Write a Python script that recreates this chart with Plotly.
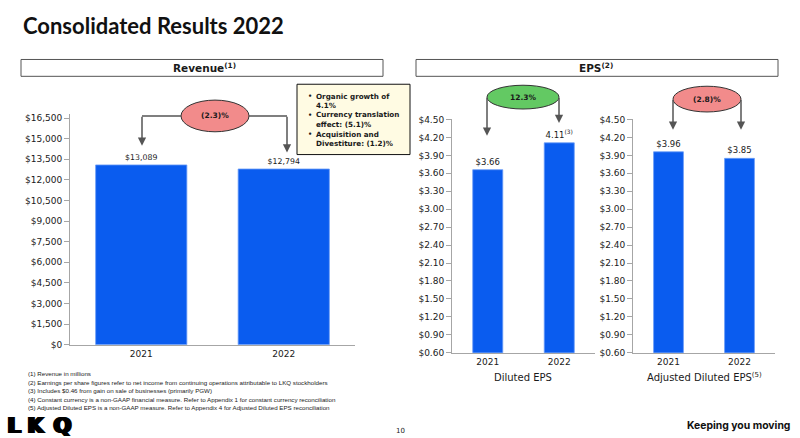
import plotly.graph_objects as go

# ---------------- data ----------------
years = ["2021", "2022"]
revenue = [13089, 12794]
eps_diluted = [3.66, 4.11]
eps_adjusted = [3.96, 3.85]

revenue_ticks = [0, 1500, 3000, 4500, 6000, 7500, 9000, 10500, 12000, 13500, 15000, 16500]
eps_ticks = [0.60, 0.90, 1.20, 1.50, 1.80, 2.10, 2.40, 2.70, 3.00, 3.30, 3.60, 3.90, 4.20, 4.50]

revenue_change = "(2.3)%"
diluted_change = "12.3%"
adjusted_change = "(2.8)%"

note_lines = [
    ["Organic growth of", "4.1%"],
    ["Currency translation", "effect: (5.1)%"],
    ["Acquisition and", "Divestiture: (1.2)%"],
]

footnotes = [
    "(1) Revenue in millions",
    "(2) Earnings per share figures refer to net income from continuing operations attributable to LKQ stockholders",
    "(3) Includes $0.46 from gain on sale of businesses (primarily PGW)",
    "(4) Constant currency is a non-GAAP financial measure. Refer to Appendix 1 for constant currency reconciliation",
    "(5) Adjusted Diluted EPS is a non-GAAP measure. Refer to Appendix 4 for Adjusted Diluted EPS reconciliation",
]

# ---------------- style ----------------
W, H = 800, 438
KY = 443 / 438          # vertical correction
BLUE = "#0a5cef"
BAR_EDGE = "#6a9cf7"
AXIS = "#a6a6a6"
TXT = "#1a1a1a"
FONT = "DejaVu Sans"
ARROW = "#555555"


def px(x):
    return x / W


def py(y):
    return 1 - (y * KY) / H


fig = go.Figure()

fig.add_trace(go.Bar(
    x=years, y=revenue, xaxis="x", yaxis="y", width=0.64,
    marker=dict(color=BLUE, line=dict(color=BAR_EDGE, width=0.8)),
    texttemplate="$%{y:,}", textposition="outside", constraintext="none",
    textfont=dict(family=FONT, size=7.8, color=TXT), cliponaxis=False,
))

diluted_text = [f"${eps_diluted[0]:.2f}", f"{eps_diluted[1]:.2f}<sup>(3)</sup>"]
fig.add_trace(go.Bar(
    x=years, y=eps_diluted, xaxis="x2", yaxis="y2", width=0.42,
    marker=dict(color=BLUE, line=dict(color=BAR_EDGE, width=0.8)),
    text=diluted_text, textposition="outside", constraintext="none",
    textfont=dict(family=FONT, size=8.5, color=TXT), cliponaxis=False,
))

adjusted_text = [f"${v:.2f}" for v in eps_adjusted]
fig.add_trace(go.Bar(
    x=years, y=eps_adjusted, xaxis="x3", yaxis="y3", width=0.42,
    marker=dict(color=BLUE, line=dict(color=BAR_EDGE, width=0.8)),
    text=adjusted_text, textposition="outside", constraintext="none",
    textfont=dict(family=FONT, size=8.5, color=TXT), cliponaxis=False,
))

tickfont = dict(family=FONT, size=9, color=TXT)


def xax(domain, anchor):
    return dict(domain=domain, anchor=anchor, type="category", showline=True,
                linecolor=AXIS, linewidth=1, ticks="", showgrid=False,
                zeroline=False, tickfont=tickfont, fixedrange=True)


def yax(domain, anchor, rng, tickvals, ticktext):
    return dict(domain=domain, anchor=anchor, range=rng, tickmode="array",
                tickvals=tickvals, ticktext=ticktext, showline=True,
                linecolor=AXIS, linewidth=1, ticks="outside", ticklen=5,
                tickcolor=AXIS, showgrid=False, zeroline=False,
                tickfont=tickfont, fixedrange=True)


rev_ticktext = [f"${v:,}" for v in revenue_ticks]
eps_ticktext = [f"${v:.2f}" for v in eps_ticks]

fig.update_layout(
    width=W, height=H, autosize=False,
    margin=dict(l=0, r=0, t=0, b=0, pad=0),
    paper_bgcolor="white", plot_bgcolor="white", showlegend=False,
    xaxis=xax([px(70), px(355)], "y"),
    yaxis=yax([py(344), py(111)], "x", [0, 16800], revenue_ticks, rev_ticktext),
    xaxis2=xax([px(452), px(595)], "y2"),
    yaxis2=yax([py(352), py(116)], "x2", [0.6, 4.51], eps_ticks, eps_ticktext),
    xaxis3=xax([px(633), px(775)], "y3"),
    yaxis3=yax([py(352), py(116)], "x3", [0.6, 4.51], eps_ticks, eps_ticktext),
)

shapes = []
ann = []

# Title
ann.append(dict(text="<b>Consolidated Results 2022</b>", x=px(21), y=py(22),
                xanchor="left", yanchor="middle",
                font=dict(family="Lato", size=22, color="#111111")))

# Header boxes
shapes.append(dict(type="rect", xref="paper", yref="paper", x0=px(21), x1=px(383),
                   y0=py(56), y1=py(73), line=dict(color="#555555", width=1),
                   fillcolor="white"))
shapes.append(dict(type="rect", xref="paper", yref="paper", x0=px(416), x1=px(778),
                   y0=py(56), y1=py(73), line=dict(color="#555555", width=1),
                   fillcolor="white"))
ann.append(dict(text="<b>Revenue<sup>(1)</sup></b>", x=px(204), y=py(64.5),
                xanchor="center", yanchor="middle",
                font=dict(family=FONT, size=10.5, color=TXT)))
ann.append(dict(text="<b>EPS<sup>(2)</sup></b>", x=px(596), y=py(64.5),
                xanchor="center", yanchor="middle",
                font=dict(family=FONT, size=10.5, color=TXT)))

# Note box
shapes.append(dict(type="rect", xref="paper", yref="paper", x0=px(297), x1=px(410),
                   y0=py(81), y1=py(152), line=dict(color="#111111", width=1),
                   fillcolor="#fffbe3"))
line_y = [[93, 102.5], [112, 121.5], [131.5, 141]]
for lines, ys in zip(note_lines, line_y):
    ann.append(dict(text="<b>•</b>", x=px(306), y=py(ys[0]), xanchor="left",
                    yanchor="middle", font=dict(family=FONT, size=6.5, color=TXT)))
    for t, yy in zip(lines, ys):
        ann.append(dict(text=f"<b>{t}</b>", x=px(314), y=py(yy), xanchor="left",
                        yanchor="middle", font=dict(family=FONT, size=7.2, color=TXT)))


# Bubbles + arrows
def bubble(cx, cy, rx, ry, fill, label):
    shapes.append(dict(type="circle", xref="paper", yref="paper",
                       x0=px(cx - rx), x1=px(cx + rx), y0=py(cy + ry), y1=py(cy - ry),
                       fillcolor=fill, line=dict(color="#333333", width=1)))
    ann.append(dict(text=f"<b>{label}</b>", x=px(cx), y=py(cy), xanchor="center",
                    yanchor="middle", font=dict(family=FONT, size=7.5, color=TXT)))


def hline(x0, x1, y):
    shapes.append(dict(type="line", xref="paper", yref="paper", x0=px(x0), x1=px(x1),
                       y0=py(y), y1=py(y), line=dict(color=ARROW, width=1.5)))


def arrow(x, ytop, ytip):
    ann.append(dict(text="", x=px(x), y=py(ytip), ax=0, ay=-(ytip - ytop) * KY,
                    showarrow=True, arrowhead=2, arrowsize=1.1, arrowwidth=1.5,
                    arrowcolor=ARROW, xref="paper", yref="paper"))


bubble(215, 113, 34, 16, "#f28b8b", revenue_change)
hline(142, 181, 113)
hline(249, 287, 113)
arrow(142, 113, 143)
arrow(287, 113, 150)

bubble(523, 94, 36, 12, "#63c963", diluted_change)
arrow(487, 94, 133)
arrow(559, 94, 120)

bubble(707, 96, 34, 13, "#f28b8b", adjusted_change)
arrow(673, 96, 127)
arrow(741, 96, 127)

# Axis titles
ann.append(dict(text="Diluted EPS", x=px(523), y=py(377), xanchor="center",
                yanchor="middle", font=dict(family=FONT, size=10, color=TXT)))
ann.append(dict(text="Adjusted Diluted EPS<sup>(5)</sup>", x=px(704), y=py(377),
                xanchor="center", yanchor="middle",
                font=dict(family=FONT, size=10, color=TXT)))

# Footnotes
for i, f in enumerate(footnotes):
    ann.append(dict(text=f, x=px(26), y=py(373 + 8.6 * i), xanchor="left",
                    yanchor="middle", font=dict(family="Liberation Sans", size=6.2,
                                                color=TXT)))

# Logo letters
for letter, x in zip(["L", "K", "Q"], [5, 25, 51]):
    ann.append(dict(text=f"<b>{letter}</b>", x=px(x), y=py(425.5), xanchor="left",
                    yanchor="middle",
                    font=dict(family=FONT, size=21, color="#000000",
                              shadow="1px 0 0 #000, -1px 0 0 #000, 2px 0 0 #000")))

ann.append(dict(text="10", x=px(400), y=py(431), xanchor="center", yanchor="middle",
                font=dict(family=FONT, size=7, color=TXT)))
ann.append(dict(text="<b>Keeping you moving</b>", x=px(792), y=py(425),
                xanchor="right", yanchor="middle",
                font=dict(family="Inter", size=10.4, color="#111111")))

for a in ann:
    a.setdefault("xref", "paper")
    a.setdefault("yref", "paper")
    a.setdefault("showarrow", False)

fig.update_layout(shapes=shapes, annotations=ann)

post = (
    "document.documentElement.style.margin='0';"
    "document.documentElement.style.overflow='hidden';"
    "document.body.style.margin='0';"
    "document.body.style.overflow='hidden';"
    "var gd=document.getElementById('{plot_id}');"
    "var wrap=gd.parentElement;"
    "wrap.style.position='fixed';wrap.style.left='0';wrap.style.top='0';"
)

fig.write_html(
    "out.html",
    config={"displayModeBar": False},
    post_script=post,
)
